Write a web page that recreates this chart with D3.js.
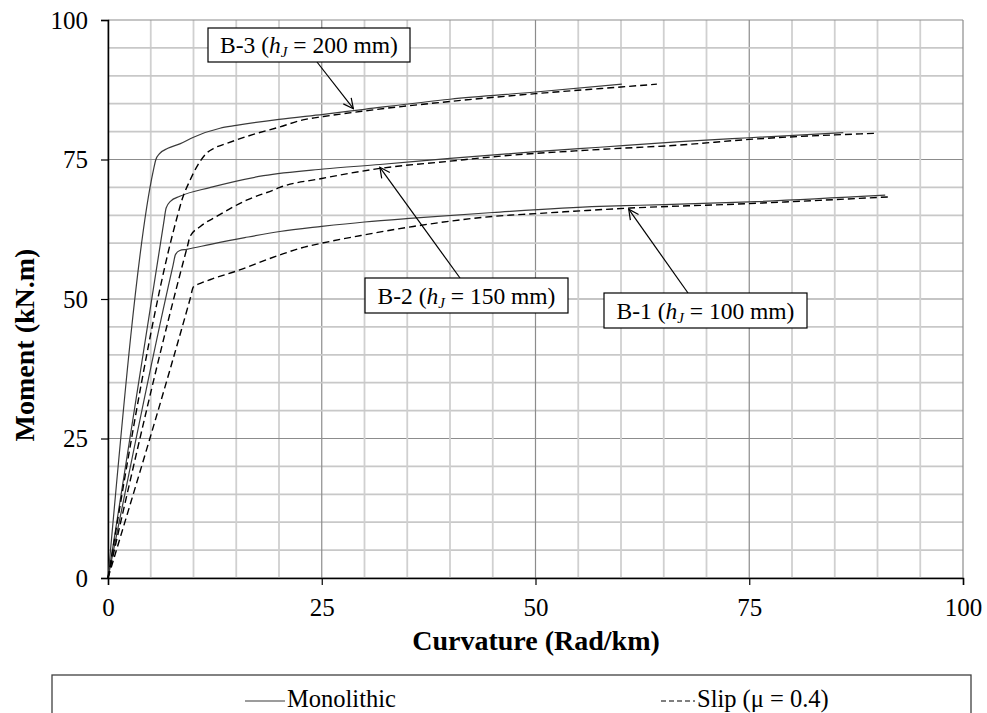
<!DOCTYPE html>
<html><head><meta charset="utf-8">
<script src="https://cdn.jsdelivr.net/npm/d3@7"></script>
<style>
body{margin:0;background:#fff;}
svg{display:block;font-family:"Liberation Serif","Times New Roman",serif;}
</style></head>
<body><svg id="c" width="987" height="713"></svg>
<script>
// Data (curvature Rad/km, moment kN.m)
const b3Mono = [[0,0],[5.3,73],[5.6,75],[6.0,76],[7,77],[8.4,77.8],[10,79],[13.1,80.6],[15,81.1],[20,82.2],[25.2,83.1],[30,84],[40,85.8],[50,87.1],[60.1,88.5]];
const b3Slip = [[0,0],[8.0,64.2],[8.7,68],[9.6,71.3],[10.5,74],[11.5,76.1],[12.5,77.1],[13.9,77.9],[17,79.5],[20,80.8],[22.8,82.1],[25.2,82.7],[30,83.7],[40,85.4],[50,86.8],[60,88],[64.2,88.5]];
const b2Mono = [[0,0],[6.5,63.5],[6.8,66.3],[7.3,67.5],[8.4,68.4],[12,70],[18.2,72.1],[25.2,73.3],[31.8,74.1],[40,75.2],[50,76.4],[57.5,77.2],[66.9,78.2],[75,78.9],[86,79.8]];
const b2Slip = [[0,0],[9.3,59.5],[9.6,61.2],[10.8,63],[12.7,64.8],[16.2,67.7],[19.3,69.5],[20.1,70.0],[25,71.6],[31.8,73.4],[40,74.7],[45.1,75.5],[57.5,76.8],[66.9,77.6],[75,78.6],[89.9,79.7]];
const b1Mono = [[0,0],[7.6,56],[7.9,58],[8.4,58.7],[9.2,58.9],[12,59.8],[16,61],[20.1,62.1],[25,63],[30,63.8],[35.7,64.5],[45,65.5],[57.5,66.6],[62.2,66.8],[75,67.4],[90.9,68.6]];
const b1Slip = [[0,0],[9.6,50],[10.0,52.2],[10.8,52.8],[12,53.5],[15,55],[20.1,57.9],[22.5,59.1],[25,60],[30,61.5],[35.7,63.0],[45,64.8],[50,65.3],[61.1,66.3],[75,67.1],[91.3,68.3]];
const xTicks = [0,25,50,75,100];
const yTicks = [0,25,50,75,100];
const minorTicks = d3.range(0,101,5);
const seriesNames = ["Monolithic","Slip (\u03bc = 0.4)"];
// annotations: label, value, arrow target (data coords)
const annB3 = {id:"B-3", h:"200", target:[28.7,84.1]};
const annB2 = {id:"B-2", h:"150", target:[31.8,73.6]};
const annB1 = {id:"B-1", h:"100", target:[60.9,66.1]};

const svg = d3.select("#c");
const L=108, R=963, T=20, B=578;
const x = d3.scaleLinear().domain([0,100]).range([L,R]);
const y = d3.scaleLinear().domain([0,100]).range([B,T]);

// grid
const g = svg.append("g");
minorTicks.forEach(v=>{
  const major = v%25===0;
  g.append("line").attr("x1",x(v)).attr("x2",x(v)).attr("y1",T).attr("y2",B)
   .attr("stroke",major?"#8c8c8c":"#d0d0d0").attr("stroke-width",major?1.2:1.8);
  g.append("line").attr("y1",y(v)).attr("y2",y(v)).attr("x1",L).attr("x2",R)
   .attr("stroke",major?"#8c8c8c":"#c8c8c8").attr("stroke-width",major?1.2:1.8);
});

// axes
const xa = svg.append("g").attr("transform",`translate(0,${B})`)
  .call(d3.axisBottom(x).tickValues(xTicks).tickSize(7).tickPadding(8).tickFormat(d3.format("d")));
const ya = svg.append("g").attr("transform",`translate(${L},0)`)
  .call(d3.axisLeft(y).tickValues(yTicks).tickSize(7).tickPadding(13).tickFormat(d3.format("d")));
[xa,ya].forEach(a=>{
  a.select(".domain").attr("stroke","#000").attr("stroke-width",1.5);
  a.selectAll(".tick line").attr("stroke","#000").attr("stroke-width",1.2);
  a.selectAll(".tick text").attr("font-family","Liberation Serif").attr("font-size",25).attr("fill","#000");
});
xa.selectAll(".tick text").attr("dy","0.9em");
ya.selectAll(".tick text").attr("dy","0.33em");

svg.append("text").attr("x",536).attr("y",650).attr("text-anchor","middle")
  .attr("font-weight","bold").attr("font-size",28).text("Curvature (Rad/km)");
svg.append("text").attr("transform",`translate(34,345) rotate(-90)`).attr("text-anchor","middle")
  .attr("font-weight","bold").attr("font-size",28).text("Moment (kN.m)");

// lines
const line = d3.line().x(d=>x(d[0])).y(d=>y(d[1])).curve(d3.curveMonotoneX);
const lg0 = svg.append("g");
[b3Mono,b2Mono,b1Mono].forEach(s=>{
  lg0.append("path").attr("d",line(s)).attr("fill","none").attr("stroke","#3a3a3a").attr("stroke-width",1.2);
});
[b3Slip,b2Slip,b1Slip].forEach(s=>{
  lg0.append("path").attr("d",line(s)).attr("fill","none").attr("stroke","#000").attr("stroke-width",1.4).attr("stroke-dasharray","7,4");
});

// arrow marker
svg.append("defs").append("marker").attr("id","arr").attr("viewBox","0 0 12 12")
  .attr("refX",11).attr("refY",6).attr("markerWidth",12).attr("markerHeight",12)
  .attr("markerUnits","userSpaceOnUse").attr("orient","auto")
  .append("path").attr("d","M1,1 L11,6 L1,11").attr("fill","none").attr("stroke","#000").attr("stroke-width",1.2);

function annot(a, bx, by, bw, bh, ax){
  const grp = svg.append("g");
  grp.append("line").attr("x1",ax).attr("y1",by<y(a.target[1])?by+bh:by)
    .attr("x2",x(a.target[0])).attr("y2",y(a.target[1]))
    .attr("stroke","#000").attr("stroke-width",1.2).attr("marker-end","url(#arr)");
  grp.append("rect").attr("x",bx).attr("y",by).attr("width",bw).attr("height",bh)
    .attr("fill","#fff").attr("stroke","#000").attr("stroke-width",1.2);
  const t = grp.append("text").attr("x",bx+bw/2).attr("y",by+bh/2+8).attr("text-anchor","middle").attr("font-size",23.5);
  t.append("tspan").text(a.id+" (");
  t.append("tspan").attr("font-style","italic").text("h");
  t.append("tspan").attr("font-style","italic").attr("font-size",15).attr("dy",4).text("J");
  t.append("tspan").attr("dy",-4).text(" = "+a.h+" mm)");
}
annot(annB3, 208, 28, 202, 34, 317);
annot(annB2, 365, 278, 203, 35, 460);
annot(annB1, 604, 293, 203, 35, 688);

// legend
const lg = svg.append("g");
lg.append("rect").attr("x",52).attr("y",675).attr("width",919).attr("height",60)
  .attr("fill","#fff").attr("stroke","#404040").attr("stroke-width",1.3);
lg.append("line").attr("x1",245).attr("x2",285).attr("y1",701).attr("y2",701).attr("stroke","#3a3a3a").attr("stroke-width",1.2);
lg.append("text").attr("x",287).attr("y",707).attr("font-size",24.5).text(seriesNames[0]);
lg.append("line").attr("x1",661).attr("x2",695).attr("y1",701).attr("y2",701).attr("stroke","#000").attr("stroke-width",1.2).attr("stroke-dasharray","5,3");
lg.append("text").attr("x",697).attr("y",707).attr("font-size",24.5).text(seriesNames[1]);
</script></body></html>
